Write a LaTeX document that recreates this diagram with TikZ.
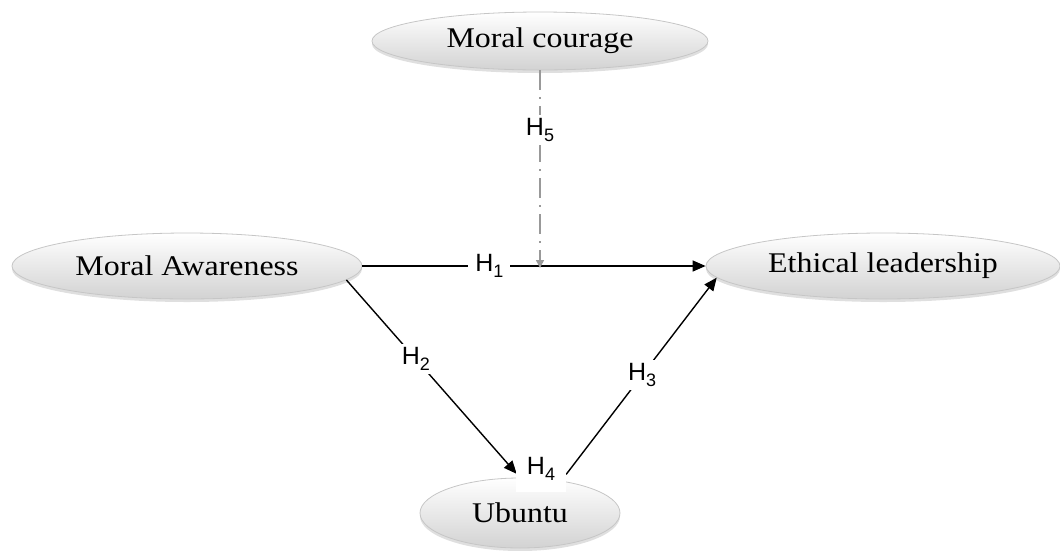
\documentclass[tikz,border=0pt]{standalone}
\usepackage{fontspec}
\setmainfont{Liberation Serif}
\newfontfamily\hfont{Liberation Sans}
\usetikzlibrary{shapes.geometric,shadows,arrows.meta}
\tikzset{
 ell/.style={ellipse, draw=gray!45, line width=0.8pt, top color=white, bottom color=gray!35, inner sep=0pt,
   drop shadow={opacity=0.25,shadow xshift=0pt,shadow yshift=-3pt},
   font=\addfontfeature{FakeStretch=1.12}\fontsize{28.5}{32}\selectfont},
 hl/.style={fill=white, text=black, inner xsep=7pt, inner ysep=3pt, font=\hfont\fontsize{25}{28}\selectfont},
 conn/.style={line width=1.4pt, -{Triangle[length=13pt,width=11pt]}},
 modconn/.style={line width=1.4pt, gray!80, dash pattern=on 20pt off 7pt on 2pt off 7pt, -{Triangle[length=8pt,width=8pt]}},
}
\newcommand{\Hs}[1]{H\raisebox{-0.25em}{\fontsize{18}{18}\selectfont #1}}
\begin{document}
\begin{tikzpicture}[x=1pt,y=-1pt]
\useasboundingbox (0,0) rectangle (1060,550);
\node[ell, minimum width=336pt, minimum height=58pt] (mc) at (540,41) {Moral courage};
\node[ell, minimum width=350pt, minimum height=66pt] (ma) at (187,266) {Moral Awareness};
\node[ell, minimum width=354pt, minimum height=66pt] (el) at (883,266) {Ethical leadership};
\node[ell, minimum width=200pt, minimum height=70pt] (ub) at (520,513) {Ubuntu};
\coordinate (m5) at (540,268);
\draw[conn] (ma.east) -- node[pos=0.37, hl] {\Hs{1}} (el.west);
\draw[modconn] (mc.south) -- node[pos=0.3, hl] {\Hs{5}} (m5);
\draw[conn, shorten >=5pt] (ma.-5) -- node[pos=0.4, hl] {\Hs{2}} (ub.north);
\draw[conn, shorten <=8pt] (ub.38) -- node[pos=0.52, hl] {\Hs{3}} (el.184);
\node[hl, anchor=base, inner sep=0pt, text height=18pt, text depth=18pt, minimum width=50pt] (h4) at (541,474) {\Hs{4}};
\end{tikzpicture}
\end{document}
